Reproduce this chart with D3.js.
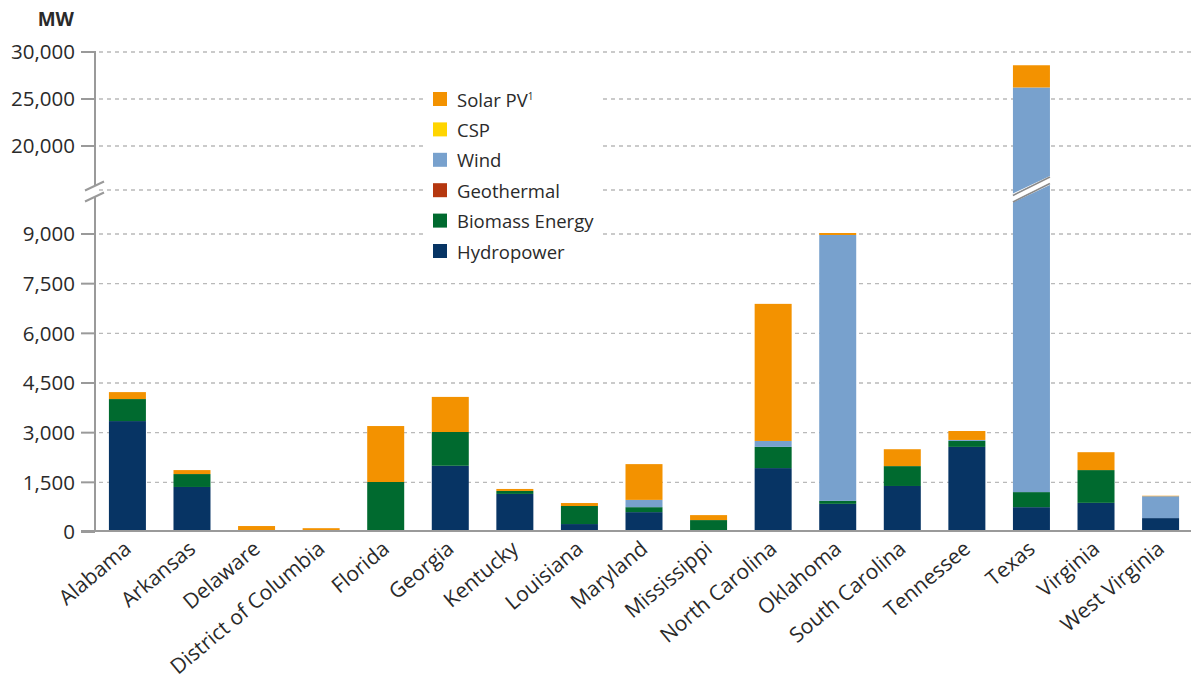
<!DOCTYPE html>
<html>
<head>
<meta charset="utf-8">
<script src="https://cdnjs.cloudflare.com/ajax/libs/d3/7.8.5/d3.min.js"></script>
<style>
  body { margin: 0; background: #fff; }
  text { font-family: "Open Sans", sans-serif; fill: #2a2a2a; }
</style>
</head>
<body>
<div id="chart"></div>
<script>
// chart data (MW)
const states = ["Alabama", "Arkansas", "Delaware", "District of Columbia", "Florida", "Georgia",
    "Kentucky", "Louisiana", "Maryland", "Mississippi", "North Carolina", "Oklahoma",
    "South Carolina", "Tennessee", "Texas", "Virginia", "West Virginia"];
const hydropower = [3350, 1360, 0, 0, 55, 2000, 1150, 240, 600, 0, 1930, 850, 1390, 2570, 750, 880, 420];
const biomass    = [665, 390, 30, 25, 1455, 1020, 90, 545, 150, 360, 640, 90, 600, 180, 455, 990, 0];
const geothermal = [0, 0, 0, 0, 0, 0, 0, 0, 0, 0, 0, 0, 0, 0, 0, 0, 0];
const wind       = [0, 0, 0, 0, 0, 0, 0, 0, 220, 0, 180, 8030, 0, 30, 25020, 0, 660];
const csp        = [0, 0, 0, 0, 0, 0, 0, 0, 0, 0, 0, 0, 0, 0, 0, 0, 0];
const solarPV    = [210, 120, 150, 90, 1690, 1060, 60, 90, 1080, 150, 4140, 60, 510, 270, 2365, 540, 15];

const lowTicks = [0, 1500, 3000, 4500, 6000, 7500, 9000];
const highTicks = [20000, 25000, 30000];

const seriesKeys = ["hydro", "biomass", "geothermal", "wind", "csp", "solar"];
const seriesColors = {
    solar: "#f39200", csp: "#ffd500", wind: "#78a1cd",
    geothermal: "#b5370f", biomass: "#006a2f", hydro: "#073464"
};
const legendItems = [
    {key: "solar", label: "Solar PV"},
    {key: "csp", label: "CSP"},
    {key: "wind", label: "Wind"},
    {key: "geothermal", label: "Geothermal"},
    {key: "biomass", label: "Biomass Energy"},
    {key: "hydro", label: "Hydropower"}
];

const width = 1191, height = 683;
const axisX = 95, breakY = 190;

let svg = d3.select("#chart")
    .append("svg")
    .attr("width", width)
    .attr("height", height);

// table for the stack
let table = states.map(function(s, i) {
    return {state: s, hydro: hydropower[i], biomass: biomass[i], geothermal: geothermal[i],
        wind: wind[i], csp: csp[i], solar: solarPV[i]};
});

let x = d3.scaleBand()
    .domain(states)
    .range([96, 1192])
    .paddingInner(0.427)
    .paddingOuter(0.2);

// broken y axis: two linear pieces
let yLow = d3.scaleLinear().domain([0, 9000]).range([532, 234]);
let yHigh = d3.scaleLinear().domain([20000, 30000]).range([146, 52]);
function yPos(v) {
    if (v <= 10300) return yLow(v);
    if (v >= 15400) return yHigh(v);
    return breakY;
}

// gridlines
let grid = svg.append("g");
let gridVals = lowTicks.slice(1).map(yLow).concat(highTicks.map(yHigh)).concat([breakY]);
grid.selectAll("line")
    .data(gridVals)
    .enter()
    .append("line")
    .attr("x1", axisX + 4)
    .attr("x2", width)
    .attr("y1", function(d) { return d; })
    .attr("y2", function(d) { return d; })
    .attr("stroke", "#b9b9b9")
    .attr("stroke-width", 1.4)
    .attr("stroke-dasharray", "4,4");

// stacked bars
let stack = d3.stack().keys(seriesKeys);
let layers = stack(table);

svg.append("g")
    .selectAll("g")
    .data(layers)
    .enter()
    .append("g")
    .attr("fill", function(d) { return seriesColors[d.key]; })
    .selectAll("rect")
    .data(function(d) { return d; })
    .enter()
    .append("rect")
    .attr("x", function(d) { return x(d.data.state); })
    .attr("width", x.bandwidth())
    .attr("y", function(d) { return yPos(d[1]); })
    .attr("height", function(d) { return Math.max(0, yPos(d[0]) - yPos(d[1])); });

// break through the Texas bar
let tx = x("Texas") - 1, tw = x.bandwidth() + 2;
svg.append("polygon")
    .attr("points", [[tx, 194], [tx + tw, 175.5], [tx + tw, 184.5], [tx, 203]].join(" "))
    .attr("fill", "#fff");
svg.append("line")
    .attr("x1", tx + 1).attr("y1", 195.5).attr("x2", tx + tw - 1).attr("y2", 177)
    .attr("stroke", "#8a8a8a").attr("stroke-width", 1.6);
svg.append("line")
    .attr("x1", tx + 1).attr("y1", 202).attr("x2", tx + tw - 1).attr("y2", 183.5)
    .attr("stroke", "#8a8a8a").attr("stroke-width", 1.6);

// y axis line, split at the break
let axisG = svg.append("g").attr("stroke", "#9a9a9a").attr("stroke-width", 2);
axisG.append("line").attr("x1", axisX).attr("x2", axisX).attr("y1", yHigh(30000) - 1).attr("y2", 185);
axisG.append("line").attr("x1", axisX).attr("x2", axisX).attr("y1", 197).attr("y2", 532);
axisG.append("line").attr("x1", 85).attr("y1", 190.5).attr("x2", 104).attr("y2", 181.5);
axisG.append("line").attr("x1", 85).attr("y1", 201.5).attr("x2", 104).attr("y2", 192.5);

// ticks + labels
let tickData = lowTicks.map(function(v) { return {v: v, y: yLow(v)}; })
    .concat(highTicks.map(function(v) { return {v: v, y: yHigh(v)}; }));
axisG.selectAll(".tick")
    .data(tickData)
    .enter()
    .append("line")
    .attr("x1", 81)
    .attr("x2", axisX)
    .attr("y1", function(d) { return d.y; })
    .attr("y2", function(d) { return d.y; });
svg.append("g")
    .selectAll("text")
    .data(tickData)
    .enter()
    .append("text")
    .attr("x", 75)
    .attr("y", function(d) { return d.y; })
    .attr("dy", "0.36em")
    .style("text-anchor", "end")
    .style("font-size", "20.5px")
    .text(function(d) { return d3.format(",")(d.v); });

// baseline
svg.append("line")
    .attr("x1", 81).attr("x2", width)
    .attr("y1", 531).attr("y2", 531)
    .attr("stroke", "#9a9a9a")
    .attr("stroke-width", 2.2);

// x labels, rotated
svg.append("g")
    .selectAll("text")
    .data(states)
    .enter()
    .append("text")
    .attr("transform", function(d) {
        return "translate(" + (x(d) + x.bandwidth() / 2 + 5) + ",551) rotate(-40)";
    })
    .style("text-anchor", "end")
    .style("font-size", "21px")
    .text(function(d) { return d; });

// unit label
svg.append("text")
    .attr("x", 74)
    .attr("y", 26)
    .style("text-anchor", "end")
    .style("font-size", "19px")
    .style("font-weight", "bold")
    .text("MW");

// legend with white background
let legend = svg.append("g");
legend.append("rect")
    .attr("x", 424).attr("y", 80)
    .attr("width", 179).attr("height", 185)
    .attr("fill", "#fff");
let rows = legend.selectAll(".row")
    .data(legendItems)
    .enter()
    .append("g")
    .attr("transform", function(d, i) { return "translate(433," + (92 + i * 30.4) + ")"; });
rows.append("rect")
    .attr("width", 14)
    .attr("height", 14)
    .attr("fill", function(d) { return seriesColors[d.key]; });
let labels = rows.append("text")
    .attr("x", 24)
    .attr("y", 14.5)
    .style("font-size", "18.5px")
    .text(function(d) { return d.label; });
labels.filter(function(d) { return d.key === "solar"; })
    .append("tspan")
    .attr("dy", -7)
    .style("font-size", "10px")
    .text("1");
</script>
</body>
</html>
